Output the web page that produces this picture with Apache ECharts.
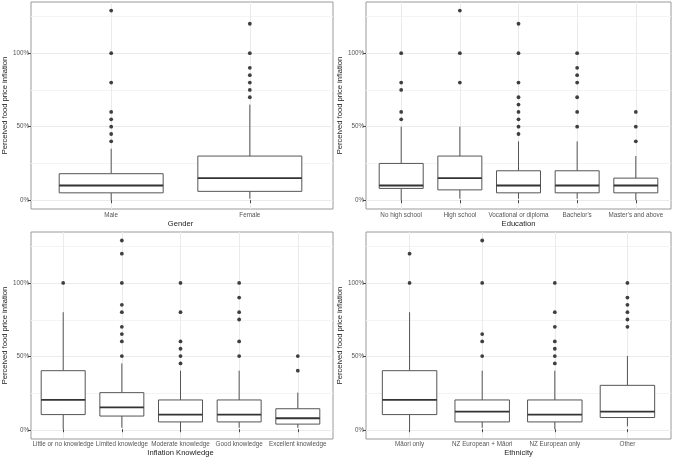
<!DOCTYPE html>
<html><head><meta charset="utf-8">
<script src="https://cdn.jsdelivr.net/npm/echarts@6/dist/echarts.min.js"></script>
<style>html,body{margin:0;padding:0;background:#fff}#c{width:674px;height:458px}</style>
</head><body><div id="c"></div>
<script>
// ---- data (percent) ----
const yTicks = [0, 50, 100];
const yTickLabels = ['0%', '50%', '100%'];
const yMinorTicks = [25, 75, 125];

const genderCats = ['Male', 'Female'];
// [lower whisker, Q1, median, Q3, upper whisker]
const genderStats = [[0, 5, 10, 18, 35], [1, 6, 15, 30, 65]];
const genderOutliers = [[40, 45, 50, 55, 60, 80, 100, 129], [70, 75, 80, 85, 90, 100, 120]];

const eduCats = ['No high school', 'High school', 'Vocational or diploma', "Bachelor's", "Master's and above"];
const eduStats = [[0, 8, 10, 25, 50], [1, 7, 15, 30, 50], [1, 5, 10, 20, 40], [1, 5, 10, 20, 40], [0, 5, 10, 15, 30]];
const eduOutliers = [[55, 60, 75, 80, 100], [80, 100, 129], [45, 50, 55, 60, 65, 70, 80, 100, 120], [50, 60, 70, 80, 85, 90, 100], [40, 50, 60]];

const knowCats = ['Little or no knowledge', 'Limited knowledge', 'Moderate knowledge', 'Good knowledge', 'Excellent knowledge'];
const knowStats = [[0, 10, 20, 40, 80], [1, 9, 15, 25, 45], [0, 5, 10, 20, 40], [1, 5, 10, 20, 40], [1, 3.5, 7.5, 14, 25]];
const knowOutliers = [[100], [50, 60, 65, 70, 80, 85, 100, 120, 129], [45, 50, 55, 60, 80, 100], [50, 60, 75, 80, 90, 100], [40, 50]];

const ethCats = ['Māori only', 'NZ European + Māori', 'NZ European only', 'Other'];
const ethStats = [[0, 10, 20, 40, 80], [1, 5, 12, 20, 40], [0, 5, 10, 20, 40], [2, 8, 12, 30, 50]];
const ethOutliers = [[100, 120], [50, 60, 65, 100, 129], [45, 50, 55, 60, 70, 80, 100], [70, 75, 80, 85, 90, 100]];

const yTitle = 'Perceived food price inflation';

// ---- layout ----
const PW = 305, PH = 207;
const Y_MIN = -6, Y_MAX = 134.8;
const FONT = 'Liberation Sans, Arial, sans-serif';
const panels = [
  { cats: genderCats, stats: genderStats, out: genderOutliers, title: 'Gender', left: 28, top: 2 },
  { cats: eduCats, stats: eduStats, out: eduOutliers, title: 'Education', left: 366, top: 2 },
  { cats: knowCats, stats: knowStats, out: knowOutliers, title: 'Inflation Knowledge', left: 28, top: 232 },
  { cats: ethCats, stats: ethStats, out: ethOutliers, title: 'Ethnicity', left: 366, top: 232 }
];

const grid = [], xAxis = [], yAxis = [], series = [];
panels.forEach((p, i) => {
  const n = p.cats.length;
  const unit = PW / (n + 0.2);
  grid.push({ left: p.left, top: p.top, width: PW, height: PH, show: true, borderColor: '#9a9a9a', borderWidth: 1, backgroundColor: 'transparent' });
  grid.push({ left: p.left + 0.1 * unit, top: p.top, width: n * unit, height: PH });
  xAxis.push({ gridIndex: 2 * i, type: 'value', min: 0, max: 1, show: false });
  xAxis.push({
    gridIndex: 2 * i + 1, type: 'category', data: p.cats, boundaryGap: true,
    axisLine: { show: false },
    axisTick: { show: true, alignWithLabel: true, length: 3, lineStyle: { color: '#444' } },
    axisLabel: { interval: 0, fontSize: 6.3, color: '#555', margin: 3, fontFamily: FONT },
    splitLine: { show: true, interval: 0, alignWithLabel: true, lineStyle: { color: '#ebebeb', width: 1 } },
    name: p.title, nameLocation: 'middle', nameGap: 11,
    nameTextStyle: { fontSize: 7.6, color: '#222', fontFamily: FONT }
  });
  yAxis.push({
    gridIndex: 2 * i, type: 'value', min: Y_MIN, max: Y_MAX,
    axisLine: { show: false },
    axisTick: { show: true, length: 3, customValues: yTicks, lineStyle: { color: '#444' } },
    axisLabel: { customValues: yTicks, formatter: v => yTickLabels[yTicks.indexOf(v)] || '', fontSize: 6.3, color: '#555', margin: 2, fontFamily: FONT },
    splitLine: { show: true, lineStyle: { color: '#ebebeb', width: 1 } },
    name: yTitle, nameLocation: 'middle', nameGap: 17,
    nameTextStyle: { fontSize: 7.6, color: '#222', fontFamily: FONT }
  });
  yAxis.push({
    gridIndex: 2 * i, type: 'value', min: Y_MIN, max: Y_MAX, position: 'left',
    axisLine: { show: false }, axisLabel: { show: false },
    axisTick: { show: false, customValues: yMinorTicks },
    splitLine: { show: true, lineStyle: { color: '#f4f4f4', width: 1 } }
  });
  yAxis.push({ gridIndex: 2 * i + 1, type: 'value', min: Y_MIN, max: Y_MAX, show: false });

  series.push({
    type: 'custom', xAxisIndex: 2 * i + 1, yAxisIndex: 3 * i + 2, z: 3,
    data: p.stats.map((s, k) => [k].concat(s)),
    encode: { x: 0, y: [1, 2, 3, 4, 5] },
    renderItem: (params, api) => {
      const k = api.value(0);
      const lo = api.coord([k, api.value(1)]);
      const q1 = api.coord([k, api.value(2)]);
      const md = api.coord([k, api.value(3)]);
      const q3 = api.coord([k, api.value(4)]);
      const hi = api.coord([k, api.value(5)]);
      const bw = api.size([1, 0])[0] * 0.75;
      const x = lo[0];
      const ls = { stroke: '#555', lineWidth: 1 };
      return {
        type: 'group', children: [
          { type: 'line', shape: { x1: x, y1: lo[1], x2: x, y2: q1[1] }, style: ls },
          { type: 'line', shape: { x1: x, y1: q3[1], x2: x, y2: hi[1] }, style: ls },
          { type: 'rect', shape: { x: x - bw / 2, y: q3[1], width: bw, height: q1[1] - q3[1] }, style: { fill: '#fff', stroke: '#555', lineWidth: 1 } },
          { type: 'line', shape: { x1: x - bw / 2, y1: md[1], x2: x + bw / 2, y2: md[1] }, style: { stroke: '#333', lineWidth: 1.8 } }
        ]
      };
    }
  });
  series.push({
    type: 'scatter', xAxisIndex: 2 * i + 1, yAxisIndex: 3 * i + 2, z: 4,
    symbolSize: 3.8, itemStyle: { color: '#111' },
    data: p.out.flatMap((arr, k) => arr.map(v => [k, v]))
  });
});

const chart = echarts.init(document.getElementById('c'), null, { renderer: 'canvas' });
chart.setOption({ backgroundColor: '#fff', animation: false, grid, xAxis, yAxis, series });
</script>
</body></html>
